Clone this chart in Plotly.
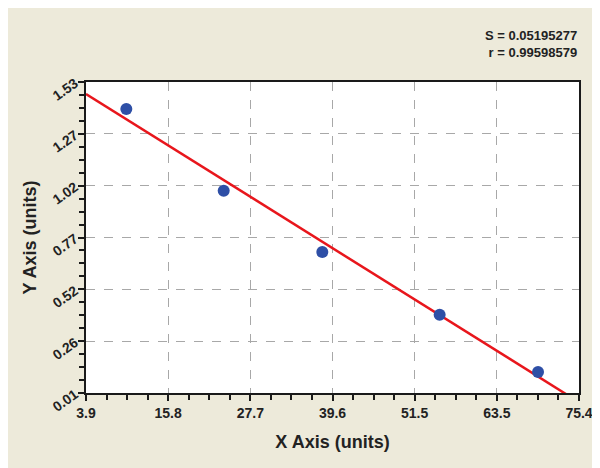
import numpy as np
import plotly.graph_objects as go

# Data
x_points = [9.75, 23.87, 38.17, 55.19, 69.46]
y_points = [1.398, 0.999, 0.699, 0.393, 0.113]
fit_x = [3.9, 73.5]
fit_y = [1.471, 0.005]

x_range = [3.9, 75.4]
y_range = [0.01, 1.53]
x_ticklabels = ["3.9", "15.8", "27.7", "39.6", "51.5", "63.5", "75.4"]
y_ticklabels = ["0.01", "0.26", "0.52", "0.77", "1.02", "1.27", "1.53"]
stat_lines = ["S = 0.05195277", "r = 0.99598579"]

x_tickvals = list(np.linspace(x_range[0], x_range[1], len(x_ticklabels)))
y_tickvals = list(np.linspace(y_range[0], y_range[1], len(y_ticklabels)))
x_minor = list(np.linspace(x_range[0], x_range[1], 25))
y_minor = list(np.linspace(y_range[0], y_range[1], 25))

FONT = "Liberation Sans"
BG = "#EDEADA"

fig = go.Figure()
fig.add_trace(go.Scatter(x=fit_x, y=fit_y, mode="lines",
                         line=dict(color="#E8161C", width=2.5),
                         hoverinfo="skip", showlegend=False))
fig.add_trace(go.Scatter(x=x_points, y=y_points, mode="markers",
                         marker=dict(color="#2E4FA6", size=12,
                                     symbol="circle",
                                     line=dict(width=0)),
                         showlegend=False))

axis_common = dict(
    showline=True, linecolor="#1a1a1a", linewidth=2, mirror=True,
    ticks="outside", ticklen=6, tickwidth=2, tickcolor="#1a1a1a",
    showgrid=True, gridcolor="#A8A8A8", griddash="dash", gridwidth=1,
    zeroline=False, automargin=False,
    tickfont=dict(family=FONT, size=14, color="#222222", weight="bold"),
)

fig.update_xaxes(
    range=x_range, tickmode="array", tickvals=x_tickvals, ticktext=x_ticklabels,
    minor=dict(tickmode="array", tickvals=x_minor, ticks="outside", ticklen=5,
               tickwidth=2, tickcolor="#1a1a1a", showgrid=False),
    title=dict(text="X Axis (units)", standoff=16,
               font=dict(family=FONT, size=18, color="#222222", weight="bold")),
    **axis_common)
fig.update_yaxes(
    range=y_range, tickmode="array", tickvals=y_tickvals, ticktext=y_ticklabels,
    tickangle=-35,
    minor=dict(tickmode="array", tickvals=y_minor, ticks="outside", ticklen=5,
               tickwidth=2, tickcolor="#1a1a1a", showgrid=False),
    title=dict(text="Y Axis (units)", standoff=8,
               font=dict(family=FONT, size=18, color="#222222", weight="bold")),
    **axis_common)

fig.add_annotation(text="<br>".join(stat_lines), xref="paper", yref="paper",
                   x=1.0, y=1.0, xanchor="right", yanchor="bottom", yshift=20,
                   align="right", showarrow=False,
                   font=dict(family=FONT, size=13, color="#222222", weight="bold"))

# white strip at the right edge of the image
fig.add_shape(type="rect", xref="paper", yref="paper",
              x0=(592 - 78) / 493, x1=(600 - 78) / 493 + 0.01,
              y0=-0.5, y1=1.5, fillcolor="white", line=dict(width=0), layer="below")

fig.update_layout(
    width=600, height=468,
    margin=dict(l=78, r=29, t=74, b=83),
    paper_bgcolor=BG, plot_bgcolor="white",
    showlegend=False,
)

fig.write_html("out.html")
